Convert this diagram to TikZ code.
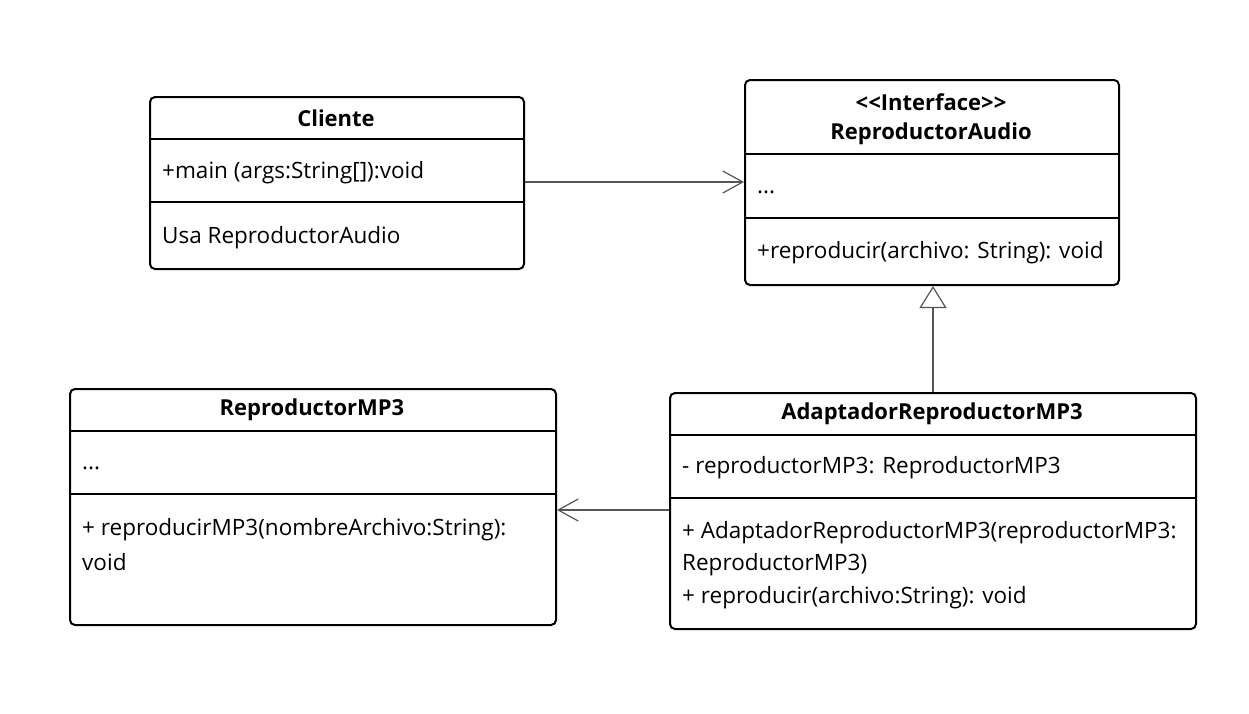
\documentclass[tikz,border=0pt]{standalone}
\usepackage{fontspec}
\setmainfont{Open Sans}
\usetikzlibrary{arrows.meta}
\usetikzlibrary{positioning}
\definecolor{mgray}{RGB}{85, 85, 85}
\tikzset{classbox/.style = {draw, line width=2pt, rounded corners=5pt,
                            anchor=north west, inner sep=0pt}}
\tikzset{sepline/.style = {line width=2pt}}
\tikzset{member/.style = {anchor=west, inner sep=0pt, yshift=-2pt,
                          font=\fontsize{22.5}{27}\selectfont}}
\tikzset{classtitle/.style = {inner sep=0pt,
                              font=\fontsize{22}{26}\selectfont\bfseries}}
\tikzset{uses/.style = {mgray, line width=1.2pt,
                        -{Straight Barb[length=20pt, width=22pt]}}}
\tikzset{realizes/.style = {mgray, line width=1.2pt,
                            -{Triangle[open, length=22pt, width=27pt, fill=white]}}}

\begin{document}
\begin{tikzpicture}[x=1pt, y=-1pt]
      \useasboundingbox (0, 0) rectangle (1249, 713);

      % Cliente
      \node [classbox, minimum width=374pt, minimum height=172pt] (cliente) at (149, 96) {};
      \draw [sepline] (cliente.west |- 0,139) -- (cliente.east |- 0,139);
      \draw [sepline] (cliente.west |- 0,202) -- (cliente.east |- 0,202);
      \node [classtitle] (clientename) at (336, 118) {Cliente};
      \node [member] (clientemain) at (162, 171) {+main (args:String[]):void};
      \node [member] (clienteusa) at (162, 236) {Usa ReproductorAudio};

      % ReproductorAudio
      \node [classbox, minimum width=374pt, minimum height=205pt] (audio) at (744, 79) {};
      \draw [sepline] (audio.west |- 0,154) -- (audio.east |- 0,154);
      \draw [sepline] (audio.west |- 0,218) -- (audio.east |- 0,218);
      \node [classtitle] (audiostereo) at (931, 102) {{<}{<}Interface{>}{>}};
      \node [classtitle] (audioname) at (931, 134) {ReproductorAudio};
      \node [member] (audiodots) at (757, 190) {...};
      \node [member] (audioplay) at (757, 251) {+reproducir(archivo: String): void};

      % ReproductorMP3
      \node [classbox, minimum width=486pt, minimum height=236pt] (mp3) at (69, 388) {};
      \draw [sepline] (mp3.west |- 0,431) -- (mp3.east |- 0,431);
      \draw [sepline] (mp3.west |- 0,494) -- (mp3.east |- 0,494);
      \node [classtitle] (mp3name) at (312, 410) {ReproductorMP3};
      \node [member] (mp3dots) at (82, 466) {...};
      \node [member] (mp3play) at (82, 528) {+ reproducirMP3(nombreArchivo:String):};
      \node [member] (mp3void) at (82, 560) {void};

      % AdaptadorReproductorMP3
      \node [classbox, minimum width=526pt, minimum height=236pt] (adaptador) at (669, 392) {};
      \draw [sepline] (adaptador.west |- 0,435) -- (adaptador.east |- 0,435);
      \draw [sepline] (adaptador.west |- 0,498) -- (adaptador.east |- 0,498);
      \node [classtitle] (adaptadorname) at (932, 414) {AdaptadorReproductorMP3};
      \node [member] (adaptadorfield) at (682, 466) {- reproductorMP3: ReproductorMP3};
      \node [member] (adaptadorctor) at (682, 531) {+ AdaptadorReproductorMP3(reproductorMP3:};
      \node [member] (adaptadorctortype) at (682, 563) {ReproductorMP3)};
      \node [member] (adaptadorplay) at (682, 596) {+ reproducir(archivo:String): void};

      \draw [uses] (cliente.east |- 0,182) -- (audio.west |- 0,182);
      \draw [realizes] (adaptador.north) -- (adaptador.north |- audio.south);
      \draw [uses] (adaptador.west |- 0,510) -- (mp3.east |- 0,510);
    \end{tikzpicture}
\end{document}
